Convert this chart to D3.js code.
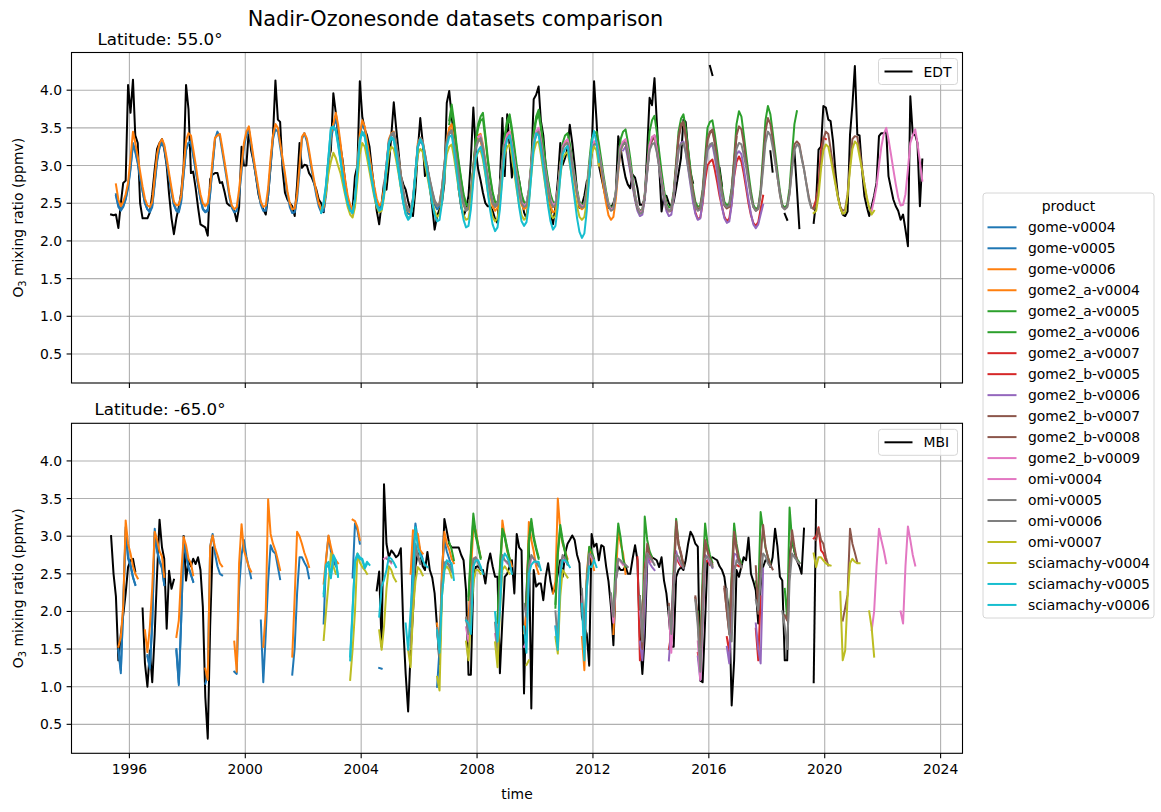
<!DOCTYPE html>
<html><head><meta charset="utf-8">
<script src="https://cdn.jsdelivr.net/npm/d3@7"></script>
<style>body{margin:0;background:#fff} text{font-family:"DejaVu Sans",sans-serif;fill:#000}</style>
</head><body><svg id="c" width="1161" height="812"></svg>
<script>
// ---------------- DATA ----------------
// Each series: list of segments [startMonth, monthly values]
const products = ["gome-v0004","gome-v0005","gome-v0006","gome2_a-v0004","gome2_a-v0005","gome2_a-v0006","gome2_a-v0007","gome2_b-v0005","gome2_b-v0006","gome2_b-v0007","gome2_b-v0008","gome2_b-v0009","omi-v0004","omi-v0005","omi-v0006","omi-v0007","sciamachy-v0004","sciamachy-v0005","sciamachy-v0006"];
const productColors = ["#1f77b4","#1f77b4","#ff7f0e","#ff7f0e","#2ca02c","#2ca02c","#d62728","#d62728","#9467bd","#8c564b","#8c564b","#e377c2","#e377c2","#7f7f7f","#7f7f7f","#bcbd22","#bcbd22","#17becf","#17becf"];
const yTicks = [0.5,1.0,1.5,2.0,2.5,3.0,3.5,4.0];
const xTickYears = [1996,2000,2004,2008,2012,2016,2020,2024];

// ---- Top panel: Latitude 55.0, station EDT ----
const top_EDT = [
 ["1995-05",[2.35,2.34,2.35,2.17,2.50,2.77,2.80,4.07,
  3.70,4.14,3.40,3.30,2.50,2.30,2.30,2.30,2.38,2.62,2.95,3.22,
  3.30,3.35,3.22,3.00,2.62,2.30,2.09,2.30,2.45,2.64,3.00,4.07,
  3.75,2.90,2.92,2.70,2.45,2.22,2.20,2.18,2.07,2.82,2.88,2.90,
  2.90,2.77,2.78,2.65,2.50,2.47,2.46,2.40,2.26,2.45,3.25,3.00,
  3.00,3.48,3.20,3.05,2.85,2.62,2.50,2.42,2.35,2.60,3.00,3.39,
  4.13,3.61,3.58,2.95,2.64,2.55,2.50,2.46,2.33,2.75,3.30,2.97,
  3.01,3.00,2.90,2.85,2.77,2.68,2.55,2.50,2.38,2.70,3.08,3.20,
  3.96,3.70,3.43,3.25,3.05,2.77,2.55,2.42,2.42,2.86,3.00,4.12,
  3.65,3.48,3.40,3.25,2.95,2.68,2.40,2.22,2.50,2.77,2.68,3.00,
  3.40,3.84,3.52,3.20,2.86,2.75,2.68,2.53,2.40,2.33,2.68,3.20,
  3.63,3.30,2.86,2.99,2.72,2.45,2.15,2.33,2.42,2.50,2.77,3.83,
  3.99,3.65,3.40,3.21,2.68,2.45,2.33,2.42,2.60,3.08,3.77,3.21,
  2.95,2.80,2.64,2.50,2.46,2.46,2.40,2.29,2.24,2.77,3.63,2.86,
  3.68,3.26,2.84,3.08,2.95,2.80,2.60,2.38,2.30,2.55,3.01,3.88,
  3.94,4.05,3.60,3.40,3.00,2.60,2.39,2.22,2.45,2.80,3.30,3.01,
  3.10,3.23,3.54,3.30,3.01,2.66,2.44,2.48,2.60,2.79,2.84,3.15,
  4.12,3.60,3.01,2.85,2.70,2.55,2.44,2.44,2.50,2.62,3.39,3.23,
  3.01,2.84,2.75,2.70,2.88,2.84,2.70,2.48,2.48,2.55,3.20,3.90,
  3.80,4.16,3.60,2.99,2.39,2.60,2.60,2.50,2.45,2.52,2.70,2.90,
  3.10,3.61,3.58,3.20,2.90,2.77]],
 ["2016-01",[4.32,4.20]],
 ["2016-05",[2.97,2.73]],
 ["2018-02",[3.19,2.92]],
 ["2018-08",[2.36,2.28]],
 ["2018-12",[3.19,2.70,2.17]],
 ["2019-08",[2.24,2.53,3.21,3.25,3.79,
  3.77,3.61,3.59,3.32,2.92,2.60,2.45,2.35,2.33,2.39,3.41,3.80,
  4.32,3.41,3.40,2.95,2.60,2.45,2.33,2.46,2.60,2.77,3.39,3.43,
  3.43,3.45,2.86,2.70,2.55,2.46,2.40,2.28,2.35,2.15,1.93,3.92,
  3.41,3.41,3.30,2.46,3.08]]
];
const top_gome_v0004 = [["1995-07",[2.62,2.47,2.42,2.46,2.56,2.72,
 2.98,3.28,3.18,3.03,2.84,2.66,2.50,2.42,2.40,2.47,2.78,3.08,
 3.24,3.30,3.24,3.04,2.84,2.64,2.48,2.41,2.40,2.54,2.90,3.22,
 3.30,3.30,3.14,2.94,2.75,2.56,2.43,2.39,2.42,2.64,3.00,3.33]]];
const top_gome_v0005 = [["1995-07",[2.60,2.45,2.40,2.45,2.55,2.70,
 2.95,3.30,3.20,3.05,2.85,2.66,2.50,2.42,2.38,2.45,2.75,3.05,
 3.25,3.32,3.25,3.05,2.85,2.65,2.48,2.40,2.38,2.52,2.88,3.20,
 3.30,3.32,3.15,2.95,2.75,2.56,2.42,2.38,2.40,2.62,3.00,3.35,
 3.45,3.38,3.20,3.00,2.80,2.58,2.44,2.38,2.40,2.60,2.92,3.25,
 3.40,3.48,3.28,3.05,2.85,2.65,2.48,2.40,2.40,2.60,2.98,3.35,
 3.48,3.45,3.25,3.05,2.85,2.62,2.45,2.37,2.38,2.55,2.92,3.35,
 3.43,3.32,3.15,2.95,2.78,2.60,2.46,2.38,2.40,2.60,2.95,3.35,
 3.50,3.62,3.48,3.25,2.98,2.75,2.56,2.44,2.36,2.50,2.95,3.40,
 3.55,3.48,3.28,3.08,2.88,2.68,2.52,2.43,2.46,2.65,2.95,3.30,
 3.40,3.42,3.26,3.05,2.84,2.62,2.45,2.36,2.35,2.50,2.88,3.25,
 3.32,3.28,3.12,2.92,2.76,2.60,2.48,2.42,2.46]]];
const top_gome_v0006 = [["1995-07",[2.75,2.55,2.46,2.52,2.62,2.77,
 3.10,3.45,3.30,3.12,2.92,2.72,2.56,2.47,2.45,2.52,2.85,3.15,
 3.30,3.35,3.28,3.10,2.90,2.70,2.52,2.47,2.48,2.60,2.98,3.33,
 3.43,3.40,3.22,3.02,2.80,2.62,2.50,2.46,2.50,2.72,3.08,3.37,
 3.40,3.42,3.25,3.05,2.85,2.62,2.47,2.42,2.45,2.68,3.00,3.30,
 3.45,3.52,3.32,3.10,2.90,2.70,2.52,2.45,2.47,2.70,3.10,3.40,
 3.55,3.50,3.30,3.10,2.90,2.66,2.50,2.42,2.43,2.62,3.00,3.38,
 3.43,3.36,3.20,3.00,2.82,2.65,2.50,2.42,2.45,2.65,3.00,3.42,
 3.55,3.70,3.55,3.30,3.02,2.80,2.60,2.48,2.40,2.55,3.00,3.42,
 3.60,3.52,3.32,3.12,2.92,2.72,2.56,2.47,2.50,2.70,3.00,3.35,
 3.43,3.45,3.30,3.10,2.88,2.66,2.48,2.40,2.38,2.52,2.90,3.30,
 3.37,3.32,3.15,2.96,2.80,2.65,2.52,2.47,2.50,2.70,3.00,3.35,
 3.50,3.45,3.30,3.10,2.88,2.66,2.48,2.42,2.45,2.62,2.95,3.25,
 3.35,3.32,3.20,3.00,2.80,2.62,2.50,2.45,2.50,2.70,3.00,3.30,
 3.38,3.40,3.25,3.05,2.85,2.65,2.50,2.45,2.48,2.65,3.00,3.30,
 3.42,3.45,3.30,3.10,2.90,2.70,2.52,2.45,2.48,2.68,3.00,3.25,
 3.28,3.30,3.20,3.00,2.80,2.60,2.48,2.45,2.46]]];
const top_gome2_a_v0004 = [["2007-01",[3.50,3.55,3.35,3.12,2.90,2.68,2.50,2.42,2.44,2.62,2.98,3.30,
 3.40,3.42,3.28,3.05,2.82,2.62,2.46,2.40,2.44,2.65,3.00,3.30,
 3.40,3.45,3.30,3.08,2.85,2.64,2.48,2.42,2.45,2.65,3.00,3.30,
 3.42,3.48,3.32,3.10,2.86,2.64,2.46,2.38,2.40,2.62,2.98,3.25,
 3.30,3.32,3.20,3.00,2.80,2.60,2.45,2.42,2.45,2.65,2.98,3.22,
 3.30,3.28,3.12,2.92,2.70,2.50,2.34,2.28,2.32,2.55,2.92,3.20,
 3.28,3.30,3.15]]];
const top_gome2_a_v0005 = [["2007-01",[3.55,3.72,3.55,3.26,3.02,2.80,2.60,2.48,2.45,2.60,2.95,3.30,
 3.50,3.60,3.62,3.35,3.06,2.82,2.62,2.50,2.49,2.68,3.02,3.36,
 3.55,3.62,3.45,3.20,2.96,2.76,2.60,2.50,2.48,2.66,3.02,3.40,
 3.60,3.68,3.50,3.24,2.98,2.78,2.60,2.50,2.48,2.64,2.98,3.25]]];
const top_gome2_a_v0006 = [["2007-01",[3.60,3.81,3.60,3.30,3.05,2.82,2.62,2.50,2.47,2.62,2.98,3.35,
 3.55,3.65,3.70,3.40,3.10,2.85,2.65,2.52,2.51,2.70,3.05,3.40,
 3.60,3.68,3.50,3.25,3.00,2.80,2.62,2.52,2.50,2.68,3.05,3.45,
 3.65,3.74,3.55,3.28,3.02,2.80,2.62,2.52,2.50,2.66,3.00,3.30,
 3.40,3.43,3.30,3.08,2.88,2.68,2.52,2.48,2.50,2.70,3.05,3.35,
 3.42,3.45,3.30,3.08,2.86,2.66,2.50,2.44,2.46,2.66,3.00,3.35,
 3.45,3.48,3.32,3.10,2.85,2.62,2.46,2.40,2.42,2.62,3.00,3.45,
 3.60,3.66,3.45,3.18,2.92,2.68,2.50,2.44,2.46,2.66,3.05,3.45,
 3.62,3.68,3.50,3.22,2.95,2.70,2.52,2.45,2.47,2.68,3.10,3.50,
 3.58,3.60,3.42,3.18,2.92,2.70,2.52,2.47,2.50,2.70,3.10,3.55,
 3.72,3.65,3.42,3.15,2.90,2.66,2.48,2.42,2.45,2.68,3.15,3.60,
 3.79,3.68,3.45,3.18,2.92,2.66,2.48,2.44,2.48,2.70,3.15,3.55,
 3.72]]];
const top_gome2_a_v0007 = [["2019-08",[2.45,2.55,2.72,3.20,3.37,3.35]]];
const top_gome2_b_v0005 = [["2015-06",[2.55,2.38,2.29,2.31,2.50,2.80,3.00,
 3.05,3.08,2.95,2.78,2.60,2.45,2.32,2.26,2.30,2.50,2.85,3.05,
 3.12,3.05,2.90,2.70,2.50,2.34,2.24,2.20,2.25,2.42,2.60]]];
const top_gome2_b_v0006 = [["2013-01",[3.20,3.25,3.10,2.92,2.72,2.54,2.40,2.33,2.35,2.55,2.90,3.25,
 3.35,3.38,3.20,2.98,2.76,2.55,2.40,2.33,2.35,2.56,2.92,3.22,
 3.30,3.32,3.18,2.96,2.74,2.52,2.36,2.28,2.30,2.52,2.90,3.20,
 3.25,3.28,3.12,2.90,2.66,2.45,2.30,2.24,2.26,2.48,2.88,3.15,
 3.19,3.15,2.98,2.76,2.55,2.36,2.22,2.17,2.22,2.35,2.48]]];
const top_gome2_b_v0007 = [["2013-01",[3.28,3.30,3.16,2.96,2.76,2.57,2.43,2.37,2.39,2.59,2.94,3.24,
 3.33,3.38,3.23,3.00,2.79,2.59,2.44,2.39,2.41,2.61,2.98,3.36,
 3.52,3.55,3.38,3.10,2.86,2.64,2.47,2.41,2.43,2.63,3.00,3.33,
 3.43,3.46,3.30,3.06,2.84,2.63,2.47,2.43,2.45,2.65,3.04,3.38]]];
const top_gome2_b_v0008 = [["2013-01",[3.30,3.32,3.18,2.98,2.78,2.58,2.44,2.38,2.40,2.60,2.95,3.25,
 3.35,3.40,3.25,3.02,2.80,2.60,2.45,2.40,2.42,2.62,3.00,3.38,
 3.55,3.58,3.40,3.12,2.88,2.65,2.48,2.42,2.44,2.64,3.02,3.35,
 3.45,3.48,3.32,3.08,2.85,2.64,2.48,2.44,2.46,2.66,3.05,3.40,
 3.52,3.48,3.30,3.05,2.82,2.60,2.45,2.40,2.43,2.64,3.05,3.45,
 3.63,3.55,3.35,3.10,2.85,2.62,2.46,2.42,2.45,2.64,3.00,3.28,
 3.32,3.28,3.12,2.95,2.76,2.58,2.45,2.42,2.48,2.70,3.05,3.35,
 3.45,3.42,3.22,3.00,2.78,2.58,2.45,2.40,2.42,2.62,3.00,3.35,
 3.39,3.38,3.20,2.98,2.75,2.55]]];
const top_gome2_b_v0009 = [["2021-08",[2.40,2.55,2.72,3.00,3.25,
 3.42,3.50,3.35,3.15,2.95,2.75,2.58,2.47,2.48,2.62,2.95,3.30,
 3.40,3.48,3.30,3.05,2.80]]];
const top_omi_v0004 = [["2004-10",[2.72,3.02,3.32]],
 ["2008-01",[3.38,3.40,3.25,3.05,2.85,2.66,2.52,2.47,2.50,2.70,3.02,3.30,
 3.42,3.45,3.28,3.08,2.88,2.68,2.52,2.47,2.50,2.68,3.02,3.32,
 3.45,3.50,3.34,3.12,2.92,2.72,2.55,2.48,2.50,2.68,2.98,3.25,
 3.32,3.35,3.22,3.04,2.84,2.64,2.50,2.46,2.48,2.67,2.98,3.24,
 3.32,3.33,3.18,3.00,2.80,2.62,2.48,2.42,2.44,2.64,2.98,3.25,
 3.32,3.35,3.22,3.00,2.80,2.60,2.46,2.38,2.40,2.60,2.95,3.28,
 3.38,3.40,3.22,3.00,2.80,2.60,2.46,2.40,2.42,2.60,2.92,3.20]]];
const top_omi_v0005 = [["2004-10",[2.72,3.02,3.32,
 3.42,3.44,3.30,3.10,2.88,2.67,2.50,2.42,2.42,2.57,2.92,3.27,
 3.37,3.32,3.16,2.98,2.82,2.67,2.54,2.48,2.50,2.70,3.02,3.32,
 3.44,3.47,3.30,3.10,2.88,2.67,2.50,2.42,2.44,2.62,2.97,3.24,
 3.34,3.37,3.24,3.04,2.84,2.66,2.52,2.47,2.50,2.70,3.00,3.27]]];
const top_omi_v0006 = [["2004-10",[2.70,3.00,3.30,
 3.40,3.42,3.28,3.08,2.86,2.65,2.48,2.40,2.40,2.55,2.90,3.25,
 3.35,3.30,3.14,2.96,2.80,2.65,2.52,2.46,2.48,2.68,3.00,3.30,
 3.42,3.45,3.28,3.08,2.86,2.65,2.48,2.40,2.42,2.60,2.95,3.22,
 3.32,3.35,3.22,3.02,2.82,2.64,2.50,2.45,2.48,2.68,2.98,3.25,
 3.36,3.40,3.25,3.05,2.85,2.65,2.50,2.45,2.47,2.65,2.98,3.28,
 3.40,3.45,3.30,3.10,2.90,2.70,2.52,2.45,2.47,2.65,2.95,3.22,
 3.28,3.30,3.20,3.02,2.82,2.62,2.48,2.44,2.46,2.65,2.95,3.20,
 3.28,3.28,3.15,2.98,2.78,2.60,2.46,2.40,2.42,2.62,2.95,3.20,
 3.28,3.30,3.18,2.98,2.78,2.58,2.44,2.36,2.38,2.58,2.92,3.20,
 3.28,3.30,3.18,2.98,2.78,2.58,2.45,2.40,2.42,2.60,2.92,3.20,
 3.28,3.30,3.18,2.98,2.78,2.60,2.46,2.40,2.42,2.62,2.95,3.22,
 3.28,3.30,3.18,3.00,2.80,2.62,2.48,2.45,2.47,2.65,2.95,3.22,
 3.30,3.28,3.15,2.98,2.78,2.58,2.45,2.40,2.42,2.62,2.95,3.30,
 3.45,3.40,3.25,3.05,2.85,2.62,2.45,2.42,2.45,2.62,2.95,3.20,
 3.28,3.25,3.10,2.95,2.75,2.55,2.44]]];
const top_omi_v0007 = [["2019-08",[2.37,2.40,2.60,2.95,3.20,
 3.28,3.25,3.10,2.92,2.75,2.58,2.44,2.36,2.38,2.60,2.95,3.22,
 3.32,3.28,3.12,2.95,2.76,2.58,2.44,2.35,2.40]]];
const top_sciamachy_v0004 = [["2002-08",[2.40,2.48,2.65,2.90,3.05,
 3.17,3.10,3.00,2.90,2.75,2.60,2.45,2.35,2.31,2.45,2.80,3.15,
 3.30,3.25,3.10,2.92,2.75,2.58,2.45,2.38,2.40,2.58,2.90,3.15,
 3.25,3.22,3.08,2.90,2.70,2.52,2.38,2.30,2.33,2.50,2.85,3.15,
 3.22,3.18,3.02,2.85,2.68,2.52,2.40,2.32,2.35,2.52,2.85,3.15,
 3.25,3.28,3.12,2.90,2.68,2.48,2.34,2.28,2.30,2.50,2.85,3.10,
 3.18,3.20,3.08,2.88,2.66,2.45,2.32,2.26,2.30,2.50,2.85,3.15,
 3.25,3.28,3.12,2.90,2.68,2.48,2.34,2.28,2.32,2.52,2.88,3.18,
 3.30,3.32,3.15,2.92,2.70,2.50,2.36,2.30,2.33,2.52,2.85,3.10,
 3.15,3.18,3.02,2.82,2.62,2.45,2.32,2.28,2.32,2.52,2.88,3.15,
 3.25,3.20,3.00]]];
const top_sciamachy_v0005 = [["2002-08",[2.38,2.52,2.75,3.12,3.48,
 3.50,3.46,3.28,3.06,2.84,2.64,2.50,2.41,2.38,2.56,2.96,3.33,
 3.43,3.38,3.20,3.00,2.80,2.61,2.48,2.41,2.43,2.62,2.97,3.28,
 3.36,3.33,3.16,2.94,2.72,2.51,2.36,2.30,2.33,2.53,2.90,3.23]]];
const top_sciamachy_v0006 = [["2002-08",[2.37,2.50,2.73,3.10,3.50,
 3.52,3.48,3.30,3.08,2.85,2.65,2.50,2.40,2.37,2.55,2.95,3.35,
 3.45,3.40,3.22,3.02,2.82,2.62,2.48,2.40,2.42,2.62,2.98,3.30,
 3.38,3.35,3.18,2.95,2.72,2.50,2.35,2.28,2.32,2.52,2.90,3.25,
 3.35,3.28,3.10,2.90,2.70,2.50,2.35,2.26,2.28,2.50,2.88,3.25,
 3.38,3.40,3.22,2.95,2.70,2.46,2.28,2.18,2.20,2.42,2.80,3.10,
 3.20,3.25,3.12,2.90,2.65,2.40,2.22,2.13,2.18,2.42,2.82,3.20,
 3.35,3.40,3.22,2.98,2.72,2.45,2.26,2.20,2.25,2.48,2.88,3.25,
 3.43,3.40,3.22,2.98,2.72,2.46,2.26,2.15,2.20,2.45,2.85,3.15,
 3.22,3.26,3.05,2.80,2.55,2.30,2.12,2.04,2.10,2.40,2.85,3.30,
 3.46,3.30,3.05]]];

// ---- Bottom panel: Latitude -65.0, station MBI ----
const bot_MBI = [
 ["1995-05",[3.00,2.50,2.20,1.35,1.70,1.95,2.24,2.59,2.68,2.70,2.53]],
 ["1996-06",[2.04,1.31,1.00,1.48,1.06,1.70,2.50,3.22,2.85,2.70,1.77,2.54,2.30,2.42]],
 ["1997-11",[3.00,2.41,2.68,2.60,2.70,2.63,2.72,2.55,2.06,0.86,0.31,1.80,2.85]],
 ["2004-07",[2.28,2.53,1.53,3.69,2.90,2.72,
  2.81,2.77,2.72,2.75,2.84,1.79,1.17,0.67,1.45,1.98,2.60,2.77,
  2.77,2.60,2.55,2.79,2.55,2.45,2.24,1.79,1.30,2.40,3.23,3.07,
  2.90,2.85,2.85,2.85,2.85,2.75,2.68,2.28,1.16,1.16,2.40,2.59,
  2.60,2.55,2.55,2.37,2.63,2.77,2.60,2.46,2.46,1.18,1.88,2.46,
  2.50,2.60,2.68,2.24,3.03,2.85,2.81,0.91,2.24,2.95,0.71,2.55,
  2.33,2.37,2.37,2.15,2.46,2.64,2.40,2.24,2.33,2.50,2.68,2.46,
  2.77,2.90,2.95,3.01,2.95,2.75,2.64,1.93,1.80,1.70,1.28,3.03,
  2.86,2.90,2.68,2.88,2.86,2.60,2.40,2.06,1.55,2.42,2.60,2.55,
  2.55,2.60,2.50,2.50,2.70,2.88,2.68,1.66,1.17,1.66,2.64,2.77,
  2.72,2.70,2.68,2.59,2.72,2.41,2.24,1.93,1.53,1.53,2.46,2.55,
  2.59,2.55,2.68,2.90,3.06,3.00,2.90,2.86,1.08,1.06,1.88,2.68,
  2.70,2.72,2.70,2.68,2.60,2.55,2.46,2.20,2.02,0.75,1.35,2.55,
  2.46,2.60,2.72,2.68,2.98,2.50,2.40,2.28,1.84,2.33,2.59,2.68,
  2.68,2.59,2.72,3.10,2.86,2.46,2.41,1.35,1.35,2.77,2.95,2.80,
  2.68,2.60,2.50,3.10]],
 ["2019-08",[1.06,3.48]]
];
const bot_gome_v0004 = [["1995-08",[1.50,1.22,2.05,3.08,2.70,2.60,2.45,2.36]],["1996-08",[1.42,1.26,1.86,3.05,2.80,2.66,2.57,2.36]],["1997-08",[1.50,1.05,1.90,2.92,2.75,2.58,2.48,2.40]]];
const bot_gome_v0005 = [["1995-08",[1.48,1.18,2.08,3.12,2.72,2.63,2.46,2.35]],["1996-08",[1.40,1.24,1.84,3.10,2.81,2.68,2.59,2.35]],["1997-08",[1.48,1.02,1.88,2.95,2.77,2.59,2.50,2.39]],["1998-08",[1.04,1.15,2.86,3.03,2.77,2.60,2.50,2.48]],["1999-08",[1.20,1.17,2.30,2.75,2.95,2.73,2.58,2.44]],["2000-07",[1.88,1.06,1.70,2.40,2.88,2.80,2.77,2.59,2.43]],["2001-08",[1.16,1.52,2.24,2.72,2.72,2.65,2.59,2.44]],["2002-09",[1.84,2.68,3.00,2.80,2.68,2.60]],["2003-09",[2.45,3.17,3.08,2.90]],["2004-08",[1.25,1.24]],["2005-09",[1.80,2.77,3.17,2.95,2.80,2.70]],["2006-08",[1.00,1.50,2.50,2.95,2.80,2.70,2.60]]];
const bot_gome_v0006 = [["1995-08",[1.53,1.66,2.08,3.21,2.90,2.77,2.60,2.50,2.44]],["1996-07",[1.75,1.46,1.80,2.32,3.06,2.95,2.80,2.73,2.46]],["1997-08",[1.66,1.88,2.50,2.99,2.88,2.70,2.64,2.48]],["1998-08",[1.24,1.09,2.86,3.01,2.85,2.75,2.64,2.60]],["1999-08",[1.60,1.20,2.64,3.16,2.81,2.70,2.59,2.53]],["2000-08",[1.53,2.00,3.49,3.03,2.90,2.81,2.68,2.55]],["2001-08",[1.40,2.20,3.06,3.00,2.90,2.78,2.69,2.59]],["2002-09",[2.37,2.70,3.01,2.86,2.72,2.68,2.64]],["2003-09",[3.22,3.20,3.12,2.95]],["2005-09",[2.50,3.08,3.05,3.03,2.81,2.77]],["2006-08",[1.84,1.50,2.50,3.06,2.90,2.82,2.70,2.64]]];
const bot_gome2_a_v0004 = [["2007-09",[1.90,2.50,3.12,3.08,2.88,2.72]],["2008-09",[1.50,2.30,3.21,3.00,2.80,2.70,2.60]],["2009-08",[1.71,2.00,3.19,2.95,2.80,2.60,2.50]],["2010-08",[2.24,2.40,3.50,3.08,2.90,2.80,2.70]],["2011-08",[1.66,1.22,2.50,2.85,2.70,2.55]],["2012-09",[1.70,2.40,3.08,2.90,2.77,2.50]]];
const bot_gome2_a_v0005 = [["2007-09",[2.15,2.75,3.22,3.00,2.85,2.70]],["2008-09",[1.85,2.55,3.05,2.98,2.82,2.68]],["2009-09",[2.05,2.90,3.18,2.96,2.82,2.70]],["2010-09",[2.05,2.75,3.10,2.92,2.78,2.63]]];
const bot_gome2_a_v0006 = [["2007-01",[2.92,2.82,2.68]],["2007-09",[2.20,2.80,3.30,3.05,2.88,2.72]],["2008-09",[1.90,2.60,3.10,3.01,2.85,2.70]],["2009-09",[2.10,2.95,3.23,3.00,2.85,2.72]],["2010-09",[2.10,2.80,3.15,2.95,2.80,2.65]],["2011-09",[1.80,2.40,2.86,2.80,2.70]],["2012-09",[2.00,2.70,3.17,2.98,2.70,2.59]],["2013-08",[2.20,1.70,3.26,2.95,2.80,2.72]],["2014-08",[1.97,1.80,2.60,3.23,2.90,2.75,2.62]],["2015-08",[2.00,1.50,2.50,3.17,2.90,2.75,2.65]],["2016-08",[2.10,1.80,2.50,3.17,2.90,2.72,2.64]],["2017-08",[2.40,2.20,3.32,3.08,2.85,2.72,2.64]],["2018-08",[2.30,1.90,3.38,2.95,2.80,2.70,2.65]]];
const bot_gome2_a_v0007 = [["2019-08",[2.97,3.00,3.12,2.81,2.77,2.68]]];
const bot_gome2_b_v0005 = [["2013-07",[2.72,1.35,1.60,2.60,2.75,2.66]],["2014-08",[1.50,1.70,2.45,2.75,2.65,2.60]],["2015-08",[1.45,1.20,1.95,2.65,2.68,2.62]],["2016-08",[1.66,1.45,2.20,2.59,2.62,2.60]],["2017-08",[1.77,1.35,2.20]]];
const bot_gome2_b_v0006 = [["2013-08",[1.60,1.35,2.00,2.73,2.64,2.59,2.55]],["2014-08",[1.35,1.80,2.50,2.80,2.68,2.64,2.58]],["2015-08",[1.40,1.09,2.00,2.75,2.72,2.64,2.58]],["2016-08",[1.53,1.31,2.20,2.77,2.75,2.64]],["2017-08",[1.84,1.50,1.31,2.57]]];
const bot_gome2_b_v0007 = [["2013-08",[2.18,1.55,2.45,2.85,2.72,2.68]],["2014-08",[2.05,1.62,2.38,3.15,2.88,2.76,2.60]],["2015-07",[2.18,1.92,1.35,2.28,2.92,2.80,2.68,2.60]],["2016-07",[2.30,2.00,1.72,2.38,3.02,2.83,2.66,2.58]]];
const bot_gome2_b_v0008 = [["2013-08",[2.20,1.50,2.50,2.90,2.75,2.70]],["2014-08",[2.10,1.60,2.40,3.20,2.90,2.78,2.62]],["2015-07",[2.20,1.90,1.30,2.30,2.95,2.81,2.70,2.62]],["2016-07",[2.33,2.00,1.70,2.40,3.06,2.85,2.68,2.60]],["2017-08",[2.60,1.97,2.70,3.15,2.86,2.72,2.62,2.56]],["2018-08",[1.95,1.88,2.60,3.08,2.86,2.68,2.64]],["2019-09",[2.95,3.10,2.95,2.90,2.72,2.61]],["2020-08",[1.88,2.05,2.22,3.10,2.90,2.78,2.65]]];
const bot_gome2_b_v0009 = [["2021-08",[1.75,2.00,2.59,3.10,2.95,2.81,2.64]],["2022-08",[2.00,1.84,2.60,3.13,2.95,2.75,2.61]]];
const bot_omi_v0004 = [["2004-10",[2.70,2.72,2.68,2.64]],["2007-08",[1.79,1.60,2.20,2.70,2.72,2.66]],["2008-08",[1.70,1.50,2.10,2.70,2.68,2.64]],["2009-08",[1.53,1.60,2.50,2.72,2.70,2.64]],["2010-09",[1.80,1.49,2.55,2.72,2.66]],["2011-08",[2.20,1.44,2.30,2.75,2.72,2.66]],["2012-08",[2.20,1.85,2.40,2.70,2.66,2.62]],["2013-08",[2.00,1.70,2.40,2.77,2.72,2.66]],["2014-08",[2.00,1.45,2.30,2.75,2.70,2.62]],["2015-08",[1.60,1.09,1.80,2.70,2.72,2.66]]];
const bot_omi_v0005 = [["2005-09",[1.55,2.15,2.88,2.73,2.63]],["2006-08",[1.78,1.42,2.28,2.63,2.65,2.60,2.53]],["2007-08",[1.92,1.72,2.12,2.68,2.70,2.64,2.56]]];
const bot_omi_v0006 = [["2004-11",[2.70,2.68,2.66]],["2005-09",[1.50,2.10,2.90,2.75,2.65]],["2006-08",[1.75,1.40,2.30,2.65,2.66,2.62,2.55]],["2007-08",[1.90,1.70,2.10,2.70,2.72,2.66,2.58]],["2008-08",[1.85,1.45,2.20,2.75,2.68,2.66,2.60]],["2009-08",[2.10,1.93,2.60,2.75,2.70,2.66,2.60]],["2010-09",[2.00,1.60,2.60,2.75,2.70,2.62]],["2011-08",[2.30,1.70,2.40,2.77,2.75,2.68]],["2012-08",[2.24,1.93,2.40,2.70,2.68,2.64,2.62,2.59]],["2013-08",[2.20,1.60,2.40,2.77,2.72,2.68,2.62]],["2014-08",[2.06,1.70,2.30,2.75,2.73,2.64,2.58]],["2015-07",[2.15,1.80,1.20,1.90,2.70,2.73,2.68,2.59]],["2016-08",[2.30,1.70,1.60,2.50,2.68,2.64,2.59]],["2017-08",[2.15,2.02,2.41,2.77,2.73,2.64,2.60]],["2018-07",[2.00,1.80,1.50,2.40,2.77,2.72,2.68,2.64]]];
const bot_omi_v0007 = [["2019-08",[2.77,2.59,2.72,2.72,2.68,2.64,2.62,2.61]],["2020-07",[2.26,1.35,1.48,2.19,2.64,2.70,2.66,2.64,2.64]],["2021-07",[2.00,1.78,1.40]]];
const bot_sciamachy_v0004 = [["2002-09",[1.62,2.00,2.37,2.77,2.60,2.50]],["2003-08",[1.09,1.50,2.00,2.77,2.65,2.59,2.55,2.50]],["2004-08",[1.75,1.49,1.80,2.30,2.60,2.55,2.45,2.40]],["2005-08",[1.49,1.26,2.00,2.40,2.59,2.55,2.48]],["2006-08",[1.13,0.95,2.20,2.55,2.60,2.55,2.45]],["2007-08",[1.60,1.35,1.90,2.37,2.55,2.55,2.50]],["2008-08",[1.59,1.26,2.00,2.55,2.60,2.55,2.50]],["2009-09",[1.29,1.35]],["2010-09",[1.66,1.44,2.20,2.55,2.50,2.45]]];
const bot_sciamachy_v0005 = [["2002-09",[2.20,2.58,2.62,2.44,2.72,2.66,2.46]],["2003-08",[1.40,2.05,2.66,2.74,2.70,2.68,2.57,2.63]]];
const bot_sciamachy_v0006 = [["2002-09",[2.24,2.62,2.66,2.46,2.75,2.68,2.48]],["2003-08",[1.35,2.00,2.68,2.77,2.72,2.70,2.59,2.66,2.62]],["2004-08",[1.93,2.33,2.42,2.55,2.72,2.70,2.65,2.59]],["2005-07",[1.84,1.49,2.00,2.42,3.12,2.86,2.75,2.68,2.62,2.59]],["2006-08",[1.75,1.45,2.20,2.55,2.68,2.66,2.64,2.42]],["2007-08",[1.88,1.84,1.70,2.59,2.68,2.68,2.60,2.50]],["2008-08",[1.99,1.60,2.00,2.68,2.77,2.72,2.64,2.50]],["2009-08",[1.80,1.45,2.50,2.62,2.66,2.66,2.66,2.55]],["2010-09",[1.80,1.49,2.50,2.68,2.68,2.64,2.59]],["2011-08",[2.10,1.35,2.30,2.60,2.59,2.68,2.59]]];

// tables for the library (built from the arrays above)
const topSeries = [top_gome_v0004,top_gome_v0005,top_gome_v0006,top_gome2_a_v0004,top_gome2_a_v0005,top_gome2_a_v0006,top_gome2_a_v0007,top_gome2_b_v0005,top_gome2_b_v0006,top_gome2_b_v0007,top_gome2_b_v0008,top_gome2_b_v0009,top_omi_v0004,top_omi_v0005,top_omi_v0006,top_omi_v0007,top_sciamachy_v0004,top_sciamachy_v0005,top_sciamachy_v0006];
const botSeries = [bot_gome_v0004,bot_gome_v0005,bot_gome_v0006,bot_gome2_a_v0004,bot_gome2_a_v0005,bot_gome2_a_v0006,bot_gome2_a_v0007,bot_gome2_b_v0005,bot_gome2_b_v0006,bot_gome2_b_v0007,bot_gome2_b_v0008,bot_gome2_b_v0009,bot_omi_v0004,bot_omi_v0005,bot_omi_v0006,bot_omi_v0007,bot_sciamachy_v0004,bot_sciamachy_v0005,bot_sciamachy_v0006];

// ---------------- DRAW ----------------
const svg = d3.select("#c");
const X0 = 71.5, X1 = 962.5;
const x = d3.scaleTime().domain([new Date(1994,0,1), new Date(2024,9,3)]).range([X0, X1]);
const panels = [
  {top:52.5, bottom:383, title:"Latitude: 55.0°", titleY:45, station:"EDT", sonde:top_EDT, series:topSeries, showX:false},
  {top:423.3, bottom:753.3, title:"Latitude: -65.0°", titleY:415, station:"MBI", sonde:bot_MBI, series:botSeries, showX:true}
];
function toPoints(segs){
  return segs.map(([s,vals])=>{
    const [yy,mm] = s.split("-").map(Number);
    return vals.map((v,i)=>({d:new Date(yy,mm-1+i,15), v}));
  });
}
const F = 13.9;
panels.forEach((p,pi)=>{
  const y = d3.scaleLinear().domain([0.115,4.5]).range([p.bottom,p.top]);
  const g = svg.append("g");
  const cid = "clip"+pi;
  svg.append("clipPath").attr("id",cid).append("rect").attr("x",X0).attr("y",p.top).attr("width",X1-X0).attr("height",p.bottom-p.top);
  // grid
  const grid = g.append("g").attr("stroke","#b0b0b0").attr("stroke-width",1.1);
  xTickYears.forEach(yr=>{const xx=x(new Date(yr,0,1)); grid.append("line").attr("x1",xx).attr("x2",xx).attr("y1",p.top).attr("y2",p.bottom);});
  yTicks.forEach(t=>{grid.append("line").attr("x1",X0).attr("x2",X1).attr("y1",y(t)).attr("y2",y(t));});
  const line = d3.line().defined(d=>d.v!=null).x(d=>x(d.d)).y(d=>y(d.v));
  const lg = g.append("g").attr("clip-path",`url(#${cid})`).attr("fill","none").attr("stroke-width",2).attr("stroke-linejoin","round").attr("stroke-linecap","square");
  toPoints(p.sonde).forEach(seg=>lg.append("path").attr("d",line(seg)).attr("stroke","#000"));
  p.series.forEach((ser,k)=>{
    toPoints(ser).forEach(seg=>lg.append("path").attr("d",line(seg)).attr("stroke",productColors[k]));
  });
  // frame
  g.append("rect").attr("x",X0).attr("y",p.top).attr("width",X1-X0).attr("height",p.bottom-p.top).attr("fill","none").attr("stroke","#000").attr("stroke-width",1.1);
  // y ticks
  yTicks.forEach(t=>{
    g.append("line").attr("x1",X0-4.9).attr("x2",X0).attr("y1",y(t)).attr("y2",y(t)).attr("stroke","#000").attr("stroke-width",1.1);
    g.append("text").attr("x",X0-9.5).attr("y",y(t)+5).attr("text-anchor","end").attr("font-size",F).text(t.toFixed(1));
  });
  // x ticks
  xTickYears.forEach(yr=>{
    const xx = x(new Date(yr,0,1));
    g.append("line").attr("x1",xx).attr("x2",xx).attr("y1",p.bottom).attr("y2",p.bottom+4.9).attr("stroke","#000").attr("stroke-width",1.1);
    if(p.showX) g.append("text").attr("x",xx).attr("y",p.bottom+20.5).attr("text-anchor","middle").attr("font-size",F).text(yr);
  });
  // y label
  const cy = (p.top+p.bottom)/2;
  const yl = g.append("text").attr("transform",`translate(23,${cy}) rotate(-90)`).attr("text-anchor","middle").attr("font-size",F);
  yl.append("tspan").text("O");
  yl.append("tspan").attr("font-size",F*0.7).attr("dy",3).text("3");
  yl.append("tspan").attr("dy",-3).text(" mixing ratio (ppmv)");
  // title
  g.append("text").attr("x",160).attr("y",p.titleY).attr("text-anchor","middle").attr("font-size",16.7).text(p.title);
  // station legend
  const lx = 878.5, ly = p.top+6;
  g.append("rect").attr("x",lx).attr("y",ly).attr("width",79).attr("height",26).attr("rx",3).attr("fill","#fff").attr("fill-opacity",0.8).attr("stroke","#d6d6d6").attr("stroke-width",1);
  g.append("line").attr("x1",lx+6).attr("x2",lx+34).attr("y1",ly+13).attr("y2",ly+13).attr("stroke","#000").attr("stroke-width",2);
  g.append("text").attr("x",lx+45).attr("y",ly+18).attr("font-size",F).text(p.station);
});
// x label
svg.append("text").attr("x",(X0+X1)/2).attr("y",799).attr("text-anchor","middle").attr("font-size",F).text("time");
// suptitle
svg.append("text").attr("x",455.5).attr("y",26).attr("text-anchor","middle").attr("font-size",20.8).text("Nadir-Ozonesonde datasets comparison");
// product legend
const Lx = 983, Ly = 193;
const leg = svg.append("g");
leg.append("rect").attr("x",Lx).attr("y",Ly).attr("width",171).attr("height",425).attr("rx",3).attr("fill","#fff").attr("stroke","#d6d6d6").attr("stroke-width",1);
leg.append("text").attr("x",Lx+85.5).attr("y",Ly+18).attr("text-anchor","middle").attr("font-size",F).text("product");
products.forEach((name,i)=>{
  const cy = 227.3 + i*20.98;
  leg.append("line").attr("x1",987.5).attr("x2",1016.5).attr("y1",cy).attr("y2",cy).attr("stroke",productColors[i]).attr("stroke-width",2);
  leg.append("text").attr("x",1028).attr("y",cy+5).attr("font-size",F).text(name);
});
</script></body></html>
